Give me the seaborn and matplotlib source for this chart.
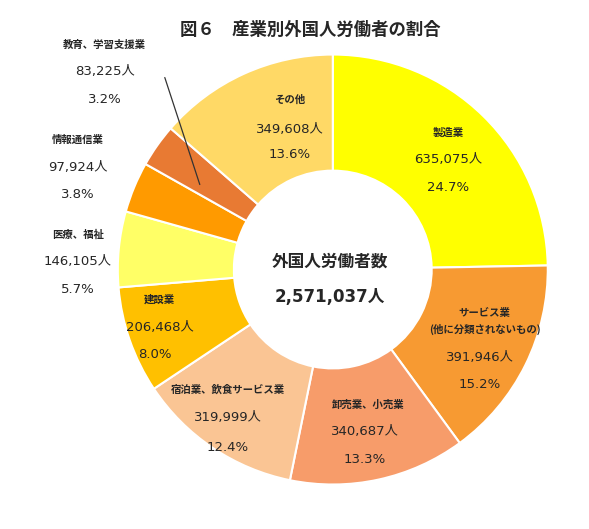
import matplotlib
matplotlib.use("Agg")
import matplotlib.pyplot as plt
import seaborn as sns

sns.set_theme(style="white")
plt.rcParams['font.family'] = ['DejaVu Sans', 'Noto Sans CJK JP']

categories = ["製造業", "サービス業\n(他に分類されないもの)", "卸売業、小売業", "宿泊業、飲食サービス業",
              "建設業", "医療、福祉", "情報通信業", "教育、学習支援業", "その他"]
values = [635075, 391946, 340687, 319999, 206468, 146105, 97924, 83225, 349608]
pct_labels = ["24.7%", "15.2%", "13.3%", "12.4%", "8.0%", "5.7%", "3.8%", "3.2%", "13.6%"]
colors = ["#FFFF00", "#F79A32", "#F79C6A", "#FAC594", "#FFC000", "#FFFF66", "#FF9A00", "#E87A33", "#FFD966"]
total = 2571037

fig = plt.figure(figsize=(5.89, 5.29), dpi=100)
ax = fig.add_axes([0.2, 0.084, 0.73, 0.813])
ax.pie(values, colors=colors, startangle=90, counterclock=False,
       wedgeprops=dict(width=0.54, edgecolor="white", linewidth=1.5))
ax.set_xlim(-1, 1); ax.set_ylim(-1, 1); ax.set_aspect("equal")

def P(px, py):
    return (px - 333) / 215, (270 - py) / 215

pos = [
    [(448, 133), (448, 160), (448, 188)],
    [(485, 322), (480, 358), (480, 385)],
    [(368, 405), (365, 432), (365, 460)],
    [(228, 390), (228, 418), (228, 448)],
    [(160, 300), (160, 328), (155, 355)],
    [(78, 235), (78, 262), (78, 290)],
    [(78, 140), (78, 168), (78, 195)],
    [(105, 45), (105, 72), (105, 100)],
    [(290, 100), (290, 130), (290, 155)],
]
for cat, v, pc, (a, b, c) in zip(categories, values, pct_labels, pos):
    ax.text(*P(*a), cat, ha="center", va="center", fontsize=7.5, fontweight="bold",
            linespacing=1.6, family=['Noto Sans CJK JP', 'DejaVu Sans'])
    ax.text(*P(*b), f"{v:,}人", ha="center", va="center", fontsize=9.5)
    ax.text(*P(*c), pc, ha="center", va="center", fontsize=9.5)

x0, y0 = P(165, 78); x1, y1 = P(200, 185)
ax.plot([x0, x1], [y0, y1], color="#333333", lw=0.9, clip_on=False)

ax.text(*P(330, 262), "外国人労働者数", ha="center", va="center", fontsize=12, fontweight="bold",
        family=['Noto Sans CJK JP', 'DejaVu Sans'])
ax.text(*P(330, 297), f"{total:,}人", ha="center", va="center", fontsize=12, fontweight="bold")

fig.text(310 / 589, 1 - 30 / 529, "図６　産業別外国人労働者の割合", ha="center", va="center",
         fontsize=12.5, fontweight="bold", family=['Noto Sans CJK JP', 'DejaVu Sans'])

fig.savefig("out.png", dpi=100, facecolor="white")
